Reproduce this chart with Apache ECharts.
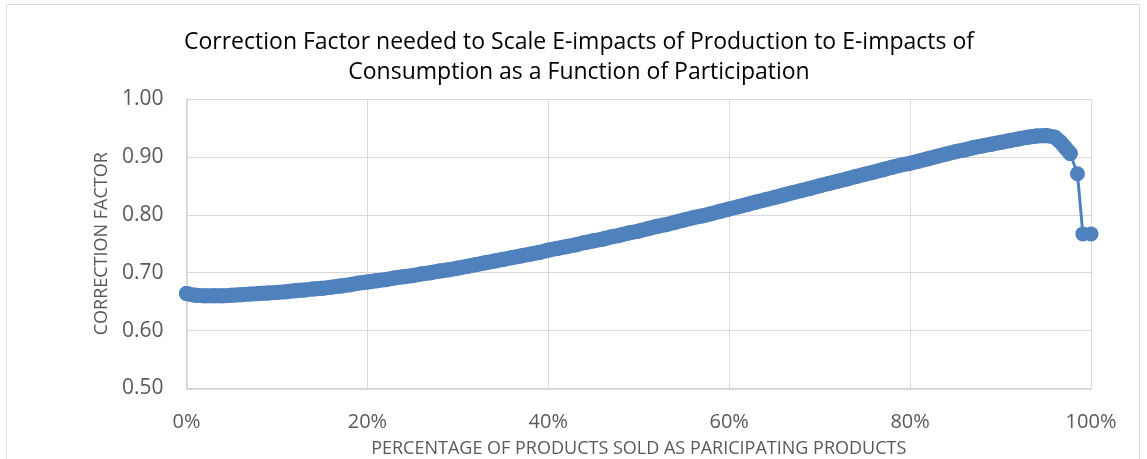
<!DOCTYPE html>
<html>
<head>
<meta charset="utf-8">
<script src="https://cdn.jsdelivr.net/npm/echarts@6/dist/echarts.min.js"></script>
<style>
  html, body { margin: 0; padding: 0; background: #fff; }
  #chart { width: 1147px; height: 459px; }
</style>
</head>
<body>
<div id="chart"></div>
<script>
// Percentage of products sold as participating products
const pctSold = [
  0, 1, 2, 3, 4, 5, 6, 7, 8, 9,
  10, 11, 12, 13, 14, 15, 16, 17, 18, 19,
  20, 21, 22, 23, 24, 25, 26, 27, 28, 29,
  30, 31, 32, 33, 34, 35, 36, 37, 38, 39,
  40, 41, 42, 43, 44, 45, 46, 47, 48, 49,
  50, 51, 52, 53, 54, 55, 56, 57, 58, 59,
  60, 61, 62, 63, 64, 65, 66, 67, 68, 69,
  70, 71, 72, 73, 74, 75, 76, 77, 78, 79,
  80, 81, 82, 83, 84, 85, 86, 87, 88, 89,
  90, 91, 92, 93, 94, 95, 96, 96.6, 97.1, 97.7,
  98.5, 99.1, 100
];

// Correction factor
const correction = [
  0.664, 0.661, 0.660, 0.660, 0.660, 0.661, 0.662, 0.663, 0.664, 0.665,
  0.666, 0.667, 0.669, 0.670, 0.672, 0.673, 0.675, 0.677, 0.679, 0.682,
  0.684, 0.686, 0.688, 0.691, 0.693, 0.695, 0.698, 0.700, 0.703, 0.705,
  0.708, 0.711, 0.714, 0.717, 0.720, 0.723, 0.726, 0.729, 0.732, 0.735,
  0.739, 0.742, 0.745, 0.748, 0.752, 0.755, 0.758, 0.762, 0.765, 0.769,
  0.772, 0.776, 0.780, 0.783, 0.787, 0.791, 0.795, 0.798, 0.802, 0.806,
  0.810, 0.814, 0.818, 0.822, 0.826, 0.830, 0.834, 0.838, 0.842, 0.846,
  0.850, 0.854, 0.858, 0.862, 0.866, 0.870, 0.874, 0.878, 0.882, 0.886,
  0.889, 0.893, 0.897, 0.901, 0.905, 0.909, 0.912, 0.916, 0.919, 0.922,
  0.925, 0.928, 0.931, 0.934, 0.936, 0.937, 0.934, 0.926, 0.917, 0.906,
  0.871, 0.767, 0.767
];

const xTicks = [0, 20, 40, 60, 80, 100];
const yTicks = [0.5, 0.6, 0.7, 0.8, 0.9, 1.0];

// markers overlap into a solid band up to here, then separate
const denseEnd = 98;

const points = pctSold.map((x, i) => [x, correction[i]]);

const chart = echarts.init(document.getElementById('chart'));

const FONT = 'Open Sans';
const BLUE = '#4f81bd';

const option = {
  animation: false,
  title: {
    text: 'Correction Factor needed to Scale E-impacts of Production to E-impacts of\nConsumption as a Function of Participation',
    left: 574,
    top: 22,
    textAlign: 'center',
    textStyle: {
      fontFamily: FONT,
      fontSize: 23,
      fontWeight: 'normal',
      color: '#000',
      lineHeight: 30
    }
  },
  graphic: [{
    type: 'rect',
    shape: { x: 6.5, y: 4.5, width: 1133, height: 470 },
    style: { fill: 'none', stroke: '#d9d9d9', lineWidth: 1 },
    silent: true
  }],
  grid: {
    left: 186.5,
    right: 56,
    top: 99,
    bottom: 70.5,
    outerBoundsMode: 'none'
  },
  xAxis: {
    type: 'value',
    min: xTicks[0],
    max: xTicks[xTicks.length - 1],
    interval: 20,
    name: 'PERCENTAGE OF PRODUCTS SOLD AS PARICIPATING PRODUCTS',
    nameLocation: 'middle',
    nameGap: 51,
    nameTextStyle: { fontFamily: FONT, fontSize: 18, color: '#595959' },
    axisLine: { show: true, lineStyle: { color: '#d0d0d0', width: 1.5 } },
    axisTick: { show: false },
    axisLabel: {
      margin: 24,
      fontFamily: FONT,
      fontSize: 20,
      color: '#595959',
      formatter: v => v + '%'
    },
    splitLine: { show: true, lineStyle: { color: '#d9d9d9', width: 1 } }
  },
  yAxis: {
    type: 'value',
    min: yTicks[0],
    max: yTicks[yTicks.length - 1],
    interval: 0.1,
    name: 'CORRECTION FACTOR',
    nameLocation: 'middle',
    nameGap: 76,
    nameRotate: 90,
    nameTextStyle: { fontFamily: FONT, fontSize: 18, color: '#595959' },
    axisLine: { show: true, lineStyle: { color: '#d0d0d0', width: 1.5 } },
    axisTick: { show: false },
    axisLabel: {
      margin: 23,
      fontFamily: FONT,
      fontSize: 21,
      color: '#595959',
      formatter: v => v.toFixed(2)
    },
    splitLine: { show: true, lineStyle: { color: '#d9d9d9', width: 1 } }
  },
  series: [{
    type: 'line',
    data: points.filter(p => p[0] <= denseEnd),
    symbol: 'circle',
    symbolSize: 15,
    showAllSymbol: true,
    lineStyle: { color: BLUE, width: 15, join: 'round', cap: 'round' },
    itemStyle: { color: BLUE }
  }, {
    type: 'line',
    data: points.filter(p => p[0] >= 97.7),
    symbol: 'circle',
    symbolSize: 15,
    showAllSymbol: true,
    lineStyle: { color: BLUE, width: 3 },
    itemStyle: { color: BLUE }
  }]
};

chart.setOption(option);
</script>
</body>
</html>
